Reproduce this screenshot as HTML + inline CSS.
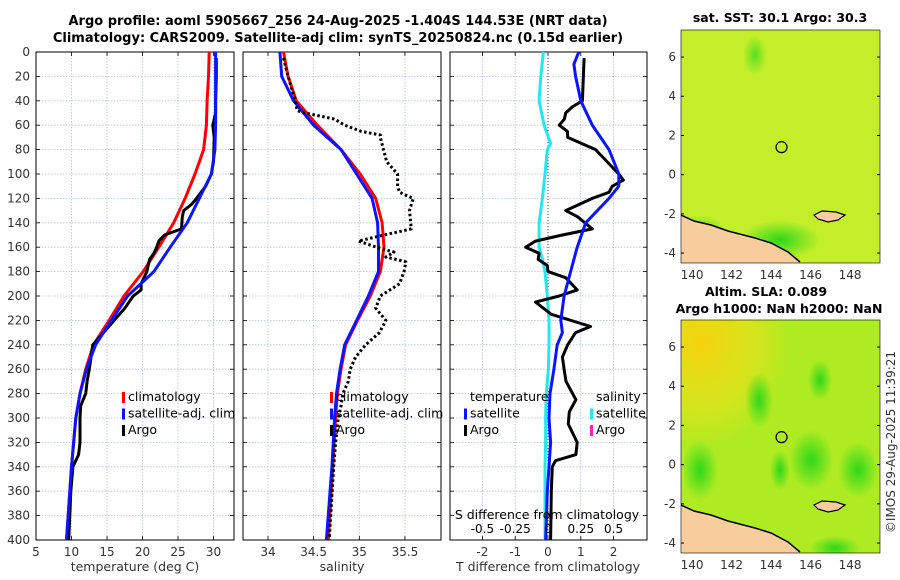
<!DOCTYPE html>
<html><head><meta charset="utf-8"><style>
html,body{margin:0;padding:0;background:#fff;}
svg{display:block;font-family:"DejaVu Sans","Liberation Sans",sans-serif;}
</style></head><body>
<svg id="fig" width="900" height="580" viewBox="0 0 900 580" xmlns="http://www.w3.org/2000/svg">
<defs>
<radialGradient id="sstBase" cx="0.4" cy="0.4" r="0.8"><stop offset="0" stop-color="#c8ef2c"/><stop offset="1" stop-color="#bdee2a"/></radialGradient>
<radialGradient id="slaYel" cx="0.1" cy="0.1" r="0.45"><stop offset="0" stop-color="#f5d20a"/><stop offset="0.6" stop-color="#e6e21a" stop-opacity="0.7"/><stop offset="1" stop-color="#e6e21a" stop-opacity="0"/></radialGradient>
<radialGradient id="gblob"><stop offset="0" stop-color="#2ed81a"/><stop offset="1" stop-color="#2ed81a" stop-opacity="0"/></radialGradient>
<radialGradient id="gblob2"><stop offset="0" stop-color="#5ae020"/><stop offset="1" stop-color="#5ae020" stop-opacity="0"/></radialGradient>
<clipPath id="cl1"><rect x="36" y="52" width="198" height="488"/></clipPath>
<clipPath id="cl2"><rect x="243" y="52" width="198" height="488"/></clipPath>
<clipPath id="cl3"><rect x="450" y="52" width="197" height="488"/></clipPath>
<clipPath id="clm1"><rect x="681" y="30" width="199" height="233"/></clipPath>
<clipPath id="clm2"><rect x="681" y="320" width="199" height="233"/></clipPath>
</defs>
<g id="root"></g>
</svg>
<script>
// ---- data ----
const climTDepth=[0,20,40,60,80,100,120,140,160,180,200,220,240,260,280,300,340,400];
const climT=[29.4,29.3,29.1,29.0,28.6,27.4,26.0,24.4,22.3,20.1,17.4,15.3,13.1,12.0,11.2,10.6,10.0,9.3];
const satT=[30.3,30.3,30.3,30.3,30.2,29.7,28.0,26.3,23.9,21.6,17.9,15.6,13.4,12.1,11.2,10.6,10.0,9.3];
const argoTDepth=[5,20,40,50,60,70,90,100,110,120,125,130,135,145,150,155,160,165,170,180,190,195,200,210,220,230,240,260,270,280,290,300,320,330,340,360,400];
const argoT=[30.4,30.4,30.3,30.3,29.9,30.1,30.0,29.7,28.9,27.6,26.9,25.8,25.6,25.5,23.1,22.3,22.0,21.6,21.0,20.6,19.8,19.8,18.7,17.5,16.0,14.5,13.0,12.5,12.2,12.0,11.3,11.2,11.2,11.0,10.2,9.9,9.6];
const salDepth=[0,20,40,60,80,100,120,140,160,180,200,220,240,260,280,300,340,400];
const climS=[34.17,34.22,34.31,34.54,34.8,35.01,35.18,35.25,35.27,35.23,35.12,34.98,34.85,34.8,34.76,34.74,34.71,34.66];
const satS=[34.13,34.15,34.28,34.5,34.8,34.97,35.14,35.2,35.21,35.21,35.1,34.97,34.84,34.79,34.75,34.73,34.7,34.64];
const argoSDepth=[5,20,40,48,50,55,60,65,68,70,90,100,110,115,120,130,145,150,155,160,164,168,172,180,190,200,210,220,230,240,250,260,270,280,290,300,320,340,400];
const argoS=[34.17,34.22,34.3,34.32,34.41,34.73,34.84,35.02,35.23,35.23,35.3,35.42,35.42,35.44,35.59,35.55,35.57,35.27,34.99,35.19,35.38,35.29,35.51,35.49,35.44,35.23,35.18,35.29,35.22,35.07,34.96,34.9,34.88,34.82,34.8,34.77,34.74,34.72,34.67];
const satDTDepth=[0,10,20,40,60,80,100,110,120,140,160,180,200,220,230,240,260,280,300,320,340,360,400];
const satDT=[0.94,0.79,0.84,1.0,1.35,1.86,2.16,2.16,1.86,1.15,0.89,0.69,0.49,0.39,0.44,0.28,0.18,0.06,0.03,0.08,0.03,-0.02,-0.07];
const satDSDepth=[0,20,40,60,75,80,100,120,140,160,170,180,200,220,240,260,280,300,320,340,400];
const satDS=[-0.035,-0.055,-0.068,-0.03,0.02,-0.005,-0.023,-0.043,-0.068,-0.068,-0.043,-0.023,-0.005,0.008,0.008,0.003,-0.013,-0.018,-0.018,-0.023,-0.023];
const argoDTDepth=[5,40,45,50,55,60,65,70,80,100,105,110,115,120,130,135,145,150,155,160,165,170,175,180,185,195,200,205,215,225,230,240,250,260,270,285,295,305,320,330,335,340,360,400];
const argoDT=[1.1,1.05,0.74,0.54,0.5,0.34,0.59,0.6,1.45,2.16,2.3,1.96,1.86,1.35,0.54,0.9,1.35,0.44,-0.38,-0.68,-0.27,-0.3,-0.02,0.0,0.54,0.89,0.34,-0.38,0.1,1.3,0.84,0.6,0.44,0.49,0.55,0.85,0.65,0.62,0.89,0.85,0.23,0.13,0.1,0.08];
const depthTicks=[0,20,40,60,80,100,120,140,160,180,200,220,240,260,280,300,320,340,360,380,400];
const tTicks=[5,10,15,20,25,30];
const sTicks=[34,34.5,35,35.5];
const dtTicks=[-2,-1,0,1,2];
const dsTicks=[-0.5,-0.25,0,0.25,0.5];
const dsTickLabels=["-0.5","-0.25","0","0.25","0.5"];
const latTicks=[6,4,2,0,-2,-4];
const lonTicks=[140,142,144,146,148];
const argoLon=[144.53];
const argoLat=[1.404];

// ---- axes ----
const NS="http://www.w3.org/2000/svg";
const root=document.getElementById('root');
const yD=d=>52+d*1.22;
const xT=t=>36+(t-5)*7.1;
const xS=s=>268+(s-34)*91.3;
const xDT=t=>548+t*32.8;
const xDS=s=>548+s*131.2;
const mx1=lon=>681+(lon-139.44)*19.75;
const my1=lat=>30+(7.38-lat)*19.6;
const my2=lat=>320+(7.38-lat)*19.6;
function el(tag,attrs,parent){const e=document.createElementNS(NS,tag);for(const k in attrs)e.setAttribute(k,attrs[k]);(parent||root).appendChild(e);return e;}
function txt(x,y,s,attrs,parent){const e=el('text',Object.assign({x:x,y:y},attrs||{}),parent);e.textContent=s;return e;}
function pathFrom(xs,ds,fx){return xs.map((v,i)=>(i?'L':'M')+fx(v).toFixed(1)+','+yD(ds[i]).toFixed(1)).join(' ');}

function panel(name,x0,x1,ticks,fx,labels,clipId){
  const g=el('g',{});
  
  
  const grid=el('g',{stroke:'#b8bfe6','stroke-width':'0.8','stroke-dasharray':'1.5,1.5'},g);
  depthTicks.forEach(d=>{el('line',{x1:x0,x2:x1,y1:yD(d),y2:yD(d)},grid);});
  ticks.forEach(t=>{el('line',{x1:fx(t),x2:fx(t),y1:52,y2:540},grid);});
  const tk=el('g',{stroke:'#000','stroke-width':'0.8'},g);
  depthTicks.forEach(d=>{el('line',{x1:x0,x2:x0+4,y1:yD(d),y2:yD(d)},tk);el('line',{x1:x1-4,x2:x1,y1:yD(d),y2:yD(d)},tk);});
  ticks.forEach(t=>{el('line',{x1:fx(t),x2:fx(t),y1:540,y2:536},tk);el('line',{x1:fx(t),x2:fx(t),y1:52,y2:56},tk);});
  const lab=el('g',{'font-size':'12',fill:'#333','text-anchor':'middle'},g);
  ticks.forEach((t,i)=>{const e=txt(fx(t),556,labels[i],{},lab);});
  el('rect',{x:x0,y:52,width:x1-x0,height:488,fill:'none',stroke:'#000','stroke-width':'1'},g);
  return g;
}
const p1=panel('temperature-panel',36,234,tTicks,xT,tTicks.map(String));
const p2=panel('salinity-panel',243,441,sTicks,xS,sTicks.map(String));
const p3=panel('difference-panel',450,647,dtTicks,xDT,dtTicks.map(String));

// depth labels
const dl=el('g',{'font-size':'12',fill:'#333','text-anchor':'end'});


depthTicks.forEach(d=>{txt(30,yD(d)+4,String(d),{},dl);});

// axis titles
let t;
t=txt(135,571,'temperature (deg C)',{'font-size':'12.5','text-anchor':'middle',fill:'#333'});

t=txt(342,571,'salinity',{'font-size':'12.5','text-anchor':'middle',fill:'#333'});

t=txt(548,571,'T difference from climatology',{'font-size':'12.5','text-anchor':'middle',fill:'#333'});


// series
function line(d,color,w,parent,name,dash){const a={d:d,fill:'none',stroke:color,'stroke-width':w,'stroke-linejoin':'round'};if(dash)a['stroke-dasharray']=dash;const e=el('path',a,parent);return e;}
const s1=el('g',{'clip-path':'url(#cl1)'});
line(pathFrom(climT,climTDepth,xT),'#ff0000',3,s1,'temp-climatology-line');
line(pathFrom(argoT,argoTDepth,xT),'#000',3,s1,'temp-argo-line');
line(pathFrom(satT,climTDepth,xT),'#0a14ff',3,s1,'temp-satellite-line');
const s2=el('g',{'clip-path':'url(#cl2)'});
line(pathFrom(climS,salDepth,xS),'#ff0000',3,s2,'sal-climatology-line');
line(pathFrom(satS,salDepth,xS),'#0a14ff',3,s2,'sal-satellite-line');
line(pathFrom(argoS,argoSDepth,xS),'#000',3,s2,'sal-argo-line','2.5,2.5');
const s3=el('g',{'clip-path':'url(#cl3)'});
el('line',{x1:xDT(0),x2:xDT(0),y1:52,y2:540,stroke:'#444','stroke-width':'1','stroke-dasharray':'1,2'},s3);
line(pathFrom(satDS,satDSDepth,xDS),'#22e8f0',3,s3,'sal-diff-satellite-line');
line(pathFrom(argoDT,argoDTDepth,xDT),'#000',3,s3,'temp-diff-argo-line');
line(pathFrom(satDT,satDTDepth,xDT),'#0a14ff',3,s3,'temp-diff-satellite-line');

// secondary S axis labels
t=txt(547,519,'S difference from climatology',{'font-size':'12.5','text-anchor':'middle',fill:'#000'});

const dsl=el('g',{'font-size':'12','text-anchor':'middle',fill:'#000'});


dsTicks.forEach((s,i)=>{txt(xDS(s),533,dsTickLabels[i],{},dsl);});

// legends
function legend(x,items,name){
  const g=el('g',{'font-size':'12.5',fill:'#000'});
  
  items.forEach((it,i)=>{const y=401+i*16.5;
    if(it[0])el('rect',{x:x,y:y-9,width:3,height:11,fill:it[0]},g);
    txt(x+6,y,it[1],{},g);});
}
legend(122,[['#ff0000','climatology'],['#0a14ff','satellite-adj. clim'],['#000','Argo']],'temperature-legend');
legend(330,[['#ff0000','climatology'],['#0a14ff','satellite-adj. clim'],['#000','Argo']],'salinity-legend');
legend(464,[[null,'temperature'],['#0a14ff','satellite'],['#000','Argo']],'diff-temperature-legend');
legend(590,[[null,'salinity'],['#22e8f0','satellite'],['#ff20d0','Argo']],'diff-salinity-legend');

// titles
t=txt(338,25,'Argo profile: aoml 5905667_256 24-Aug-2025 -1.404S 144.53E (NRT data)',{'font-size':'13','font-weight':'bold','text-anchor':'middle'});

t=txt(338,42,'Climatology: CARS2009. Satellite-adj clim: synTS_20250824.nc (0.15d earlier)',{'font-size':'13','font-weight':'bold','text-anchor':'middle'});


// maps
function mapPanel(name,top,my,clip,bottomMap){
  const g=el('g',{});
  
  const c=el('g',{'clip-path':'url(#'+clip+')'},g);
  if(!bottomMap){
    el('rect',{x:681,y:top,width:199,height:233,fill:'#c4ee2a'},c);
    el('ellipse',{cx:755,cy:top+25,rx:12,ry:20,fill:'url(#gblob2)'},c);
    el('ellipse',{cx:780,cy:top+210,rx:40,ry:20,fill:'url(#gblob)'},c);
    el('ellipse',{cx:700,cy:top+200,rx:25,ry:15,fill:'url(#gblob2)'},c);
  }else{
    el('rect',{x:681,y:top,width:199,height:233,fill:'#aeeb22'},c);
    el('rect',{x:681,y:top,width:199,height:233,fill:'url(#slaYel)'},c);
    [[700,top+150,18,30],[759,top+80,14,28],[811,top+140,22,30],[858,top+150,20,28],[780,top+150,10,20],[835,top+228,25,12],[820,top+60,12,20]].forEach(b=>{el('ellipse',{cx:b[0],cy:b[1],rx:b[2],ry:b[3],fill:'url(#gblob)'},c);});
  }
  const off=top-30;
  const coast=[[681,215],[694,221],[711,225],[728,231],[755,238],[771,243],[788,252],[800,262],[800,270],[681,270]].map(p=>p[0]+','+(p[1]+off)).join(' ');
  el('polygon',{points:coast,fill:'#f8cd9d'},c);
  el('polyline',{points:[[681,215],[694,221],[711,225],[728,231],[755,238],[771,243],[788,252],[800,262]].map(p=>p[0]+','+(p[1]+off)).join(' '),fill:'none',stroke:'#000','stroke-width':'1.5'},c);
  el('path',{d:`M814,${215+off} L822,${211+off} L836,${212+off} L845,${215+off} L838,${220+off} L828,${222+off} L818,${219+off} Z`,fill:'#f8cd9d',stroke:'#000','stroke-width':'1.2'},c);
  const cx=mx1(argoLon[0]), cy=my(argoLat[0]);
  const mk=el('circle',{cx:cx,cy:cy,r:5.5,fill:'none',stroke:'#000','stroke-width':'1.2'},g);
  
  el('rect',{x:681,y:top,width:199,height:233,fill:'none',stroke:'#000','stroke-width':'0.6'},g);
  const lab=el('g',{'font-size':'12',fill:'#333'},g);
  latTicks.forEach(l=>{txt(676,my(l)+4,String(l),{'text-anchor':'end'},lab);
    el('line',{x1:681,x2:684,y1:my(l),y2:my(l),stroke:'#000'},g);el('line',{x1:877,x2:880,y1:my(l),y2:my(l),stroke:'#000'},g);});
  lonTicks.forEach(l=>{txt(mx1(l),top+249,String(l),{'text-anchor':'middle'},lab);});
}
mapPanel('sst-map',30,my1,'clm1',false);
mapPanel('sla-map',320,my2,'clm2',true);
t=txt(780,22,'sat. SST: 30.1 Argo: 30.3',{'font-size':'12.5','font-weight':'bold','text-anchor':'middle'});

t=txt(766,296,'Altim. SLA: 0.089',{'font-size':'12.5','font-weight':'bold','text-anchor':'middle'});

t=txt(779,313,'Argo h1000: NaN h2000: NaN',{'font-size':'12.5','font-weight':'bold','text-anchor':'middle'});

t=txt(0,0,'©IMOS 29-Aug-2025 11:39:21',{'font-size':'12','text-anchor':'middle',fill:'#333',transform:'translate(895,442) rotate(-90)'});

</script>
</body></html>
